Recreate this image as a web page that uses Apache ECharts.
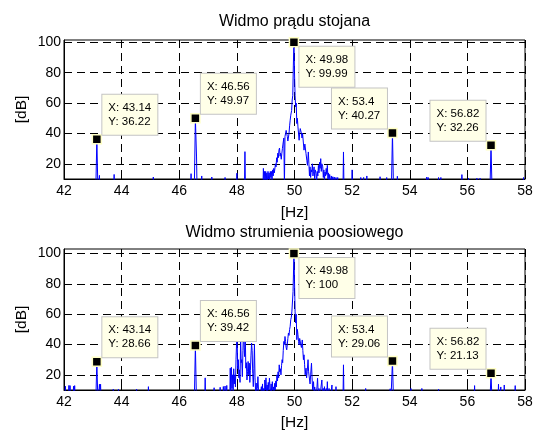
<!DOCTYPE html>
<html><head><meta charset="utf-8">
<script src="https://cdn.jsdelivr.net/npm/echarts@6/dist/echarts.min.js"></script>
<style>html,body{margin:0;padding:0;background:#fff}#c{width:538px;height:433px}</style>
</head><body><div id="c"></div>
<script>
// ---------- data ----------
const titles = ['Widmo prądu stojana', 'Widmo strumienia poosiowego'];
const xName = '[Hz]';
const yName = '[dB]';
const xTicks = [42, 44, 46, 48, 50, 52, 54, 56, 58];
const yTicks = [20, 40, 60, 80, 100];

// spectrum of stator current: [frequency Hz, level dB] (levels under 10 dB fall below the axis)
const spectrumTop = [
 [42.00,0],[43.10,0],[43.14,36.22],[43.18,0],[43.21,0],[43.23,12.4],[43.25,0],
 [43.72,0],[43.74,13.0],[43.76,0],[45.08,0],[45.10,11.3],[45.12,0],
 [46.39,0],[46.41,13.5],[46.43,0],[46.52,0],[46.56,49.97],[46.60,24.5],[46.62,0],
 [46.76,0],[46.78,12],[46.80,0],[47.11,0],[47.13,11.3],[47.15,0],[47.57,0],[47.59,11],[47.61,0],
 [47.98,0],[48.00,13.8],[48.02,0],[48.26,0],[48.28,28],[48.30,0],
 [48.90,0],[48.92,17],[48.94,9],[48.96,15],[48.98,8],[49.00,15],[49.02,9],[49.04,14],[49.06,8],
 [49.08,15],[49.10,10],[49.12,14],[49.14,8],[49.16,15],[49.18,11],[49.20,15],[49.22,9],[49.24,16],
 [49.26,12],[49.28,17],[49.30,14],[49.32,15],[49.34,20],[49.36,18],[49.38,24],[49.40,21],[49.42,27],
 [49.44,24],[49.46,29],[49.48,30.4],[49.50,25],[49.52,27],[49.54,23],[49.56,26.7],[49.58,30],
 [49.60,33],[49.63,37],[49.65,5],[49.67,38],[49.69,40],[49.71,42],[49.73,41],[49.75,38],[49.77,35],
 [49.79,34.4],[49.81,40],[49.83,45],[49.85,48.7],[49.87,52],[49.90,55],[49.92,62],[49.94,65],
 [49.96,85],[49.98,99.99],[50.00,80],[50.02,65],[50.04,57.5],[50.06,60],[50.08,46.5],[50.10,50],
 [50.12,44.3],[50.14,45],[50.16,35.5],[50.18,40],[50.20,43.2],[50.22,42],[50.24,40],[50.26,37],
 [50.28,40],[50.30,40],[50.33,29],[50.36,33],[50.40,26.7],[50.43,22],[50.45,19],[50.48,27.8],
 [50.50,20],[50.52,12],[50.54,18],[50.56,11],[50.58,16],[50.60,14.6],[50.62,20],[50.64,12],
 [50.66,15],[50.68,18],[50.70,10],[50.72,16],[50.75,13.6],[50.77,8],[50.79,15],[50.81,12],
 [50.83,19],[50.85,14],[50.87,21],[50.89,17],[50.91,23.4],[50.93,15],[50.95,20],[50.98,18],
 [51.00,11],[51.02,16],[51.04,9],[51.06,14.6],[51.08,12],[51.10,17],[51.12,13],[51.14,19],
 [51.16,10],[51.18,14],[51.20,8],[51.22,13],[51.24,12.5],[51.26,7],[51.28,12],[51.30,8],
 [51.33,11.5],[51.35,7],[51.38,11.3],[51.40,6],[51.44,11],[51.46,5],[51.50,11],[51.52,0],
 [51.68,0],[51.70,27.8],[51.72,0],[51.98,0],[52.00,16],[52.02,0],[52.28,0],[52.30,11],[52.32,0],
 [52.38,0],[52.40,11],[52.42,0],[52.49,0],[52.51,12],[52.53,0],[52.95,0],[52.97,11.5],[52.99,0],
 [53.18,0],[53.20,11],[53.22,0],[53.36,0],[53.40,40.27],[53.44,0],[53.55,0],[53.57,11.8],[53.59,0],
 [54.57,0],[54.59,11.3],[54.61,0],[54.62,0],[54.64,11],[54.66,0],[54.98,0],[55.00,11],[55.02,0],
 [55.06,0],[55.08,11],[55.10,0],[55.79,0],[55.81,12.9],[55.83,0],[56.02,0],[56.04,10.6],[56.06,0],
 [56.31,0],[56.33,10.5],[56.35,0],[56.42,0],[56.44,10.5],[56.46,0],[56.78,0],[56.82,32.26],[56.86,0],
 [57.93,0],[57.95,11],[57.97,0],[58.00,0]
];

// spectrum of axial flux
const spectrumBottom = [
 [42.00,0],[42.03,0],[42.05,12.5],[42.07,0],[42.15,0],[42.17,13],[42.19,0],[42.21,12.9],[42.23,0],
 [42.31,0],[42.33,12.5],[42.35,0],[42.37,12.9],[42.39,0],[43.10,0],[43.14,28.66],[43.18,0],
 [43.21,0],[43.23,13.8],[43.25,10],[43.27,13.8],[43.29,0],[43.69,0],[43.71,10.5],[43.73,0],
 [43.87,0],[43.89,10.5],[43.91,0],[44.50,0],[44.52,10.5],[44.54,0],[44.91,0],[44.93,12.2],[44.95,0],
 [46.52,0],[46.56,39.42],[46.60,0],[46.88,0],[46.90,18],[46.92,0],[47.19,0],[47.21,11.5],[47.23,0],
 [47.40,0],[47.42,11.8],[47.44,0],[47.51,0],[47.53,12.3],[47.55,0],[47.57,0],[47.59,12.6],[47.61,0],
 [47.63,0],[47.65,13],[47.67,0],
 [47.75,0],[47.77,24.4],[47.79,8],[47.81,25],[47.83,11],[47.85,20],[47.87,9],[47.89,24],[47.91,14],
 [47.93,20],[47.95,12],[47.97,30],[47.99,41],[48.01,43],[48.03,24],[48.05,30],[48.07,18],[48.09,23.3],
 [48.11,15],[48.13,45],[48.15,28],[48.17,30],[48.19,18.8],[48.21,36],[48.23,51],[48.25,38],[48.27,32],
 [48.29,50],[48.31,24.4],[48.33,28],[48.35,16.6],[48.37,22],[48.39,28.8],[48.41,20],[48.43,27.7],
 [48.45,15],[48.47,23],[48.49,33],[48.51,41],[48.53,36],[48.55,21],[48.57,12.2],[48.59,24],[48.61,40.3],
 [48.63,18],[48.65,8],[48.67,14.6],[48.69,5],[48.71,11],[48.73,18.8],[48.75,10],[48.77,0],
 [48.83,0],[48.85,12.2],[48.87,8],[48.89,14],[48.91,0],[48.93,11],[48.95,0],[48.97,16.6],[48.99,10],
 [49.01,18],[49.03,8],[49.05,13.3],[49.07,9],[49.09,15],[49.11,10],[49.13,17.8],[49.15,12],[49.17,7],
 [49.19,14],[49.21,8],[49.23,15.5],[49.25,10],[49.27,12],[49.29,6],[49.31,14.4],[49.33,10],[49.35,16],
 [49.37,12],[49.39,20],[49.41,16],[49.43,22],[49.45,18],[49.47,26.6],[49.49,22],[49.51,24],[49.53,20],
 [49.55,26],[49.57,30],[49.59,28],[49.61,36],[49.63,42],[49.65,40],[49.67,45.3],[49.69,42],[49.71,38],
 [49.73,36.5],[49.75,40],[49.77,44],[49.79,47.6],[49.81,46],[49.83,50],[49.85,52],[49.87,56.4],
 [49.89,58],[49.91,62],[49.93,63],[49.95,75],[49.98,100],[50.00,82],[50.02,62],[50.04,54.2],[50.06,60],
 [50.08,43.2],[50.10,50],[50.12,46.5],[50.14,42],[50.16,39.8],[50.18,44],[50.20,43],[50.22,39.8],
 [50.24,38],[50.27,43],[50.29,36],[50.31,30],[50.33,33.2],[50.35,27],[50.37,20],[50.40,24.4],
 [50.42,18],[50.44,22],[50.47,30],[50.49,22],[50.52,21],[50.54,14],[50.56,20],[50.59,27.7],[50.61,18],
 [50.63,10],[50.66,15.5],[50.68,8],[50.70,12],[50.73,11.3],[50.75,6],[50.78,12],[50.80,17.8],[50.82,9],
 [50.85,11],[50.87,12.2],[50.89,6],[50.92,12],[50.95,16.6],[50.97,8],[51.00,11],[51.02,5],[51.04,12.2],
 [51.06,5],[51.10,11],[51.12,6],[51.14,15.5],[51.16,5],[51.20,11],[51.22,0],[51.28,0],[51.30,13.3],
 [51.32,0],[51.42,0],[51.44,12.2],[51.46,0],[51.68,0],[51.70,26.6],[51.72,0],[52.44,0],[52.47,11],
 [52.50,0],[53.30,0],[53.32,10.8],[53.34,0],[53.36,0],[53.40,29.06],[53.44,0],[54.02,0],[54.04,11],
 [54.06,0],[54.40,0],[54.42,11],[54.44,0],[54.98,0],[55.00,10.5],[55.02,0],[56.23,0],[56.25,12.9],
 [56.27,0],[56.78,0],[56.82,21.13],[56.86,0],[57.06,0],[57.08,13.8],[57.10,0],[57.14,0],[57.16,12],
 [57.18,0],[57.26,0],[57.28,13.3],[57.30,0],[57.64,0],[57.66,12.9],[57.68,0],[58.00,0]
];

// data cursors
const tipFreq = [43.14, 46.56, 49.98, 53.4, 56.82];
const tipDbTop = [36.22, 49.97, 99.99, 40.27, 32.26];
const tipDbBottom = [28.66, 39.42, 100, 29.06, 21.13];

// ---------- layout / style ----------
const tipPlace = ['ur', 'ur', 'dr', 'ul', 'ul'];
const FONT = 'Liberation Sans, Arial, sans-serif';
const grids = [
  {left: 64, top: 40, width: 461, height: 139, ymax: 101.5},
  {left: 64, top: 249, width: 461, height: 141, ymax: 103}
];
const BOXW = 44, PAD = [6, 5, 6, 6];
function tipLabel(place) {
  const outerW = BOXW + PAD[1] + PAD[3];
  if (place === 'ur') return {align: 'left', verticalAlign: 'bottom', offset: [5.5, -4.5]};
  if (place === 'dr') return {align: 'left', verticalAlign: 'top', offset: [5.5, 4.5]};
  return {align: 'left', verticalAlign: 'bottom', offset: [-5.5 - outerW, -4.5]};
}

const chart = echarts.init(document.getElementById('c'), null, {renderer: 'canvas'});
const spectra = [spectrumTop, spectrumBottom];
const tipDb = [tipDbTop, tipDbBottom];

const option = {
  animation: false,
  backgroundColor: '#fff',
  title: titles.map((t, i) => ({
    text: t, left: grids[i].left + grids[i].width / 2, textAlign: 'center',
    top: i === 0 ? 13.5 : 225, padding: 0,
    textStyle: {fontFamily: FONT, fontSize: 16, fontWeight: 'normal', color: '#000'}
  })),
  grid: grids.map(g => ({left: g.left, top: g.top, width: g.width, height: g.height,
    show: true, borderColor: '#000', borderWidth: 1, backgroundColor: 'transparent', containLabel: false})),
  xAxis: grids.map((g, i) => ({
    type: 'value', gridIndex: i, min: xTicks[0], max: xTicks[xTicks.length - 1], interval: 2,
    name: xName, nameLocation: 'middle', nameGap: i === 0 ? 26 : 25, nameMoveOverlap: false,
    nameTextStyle: {fontFamily: FONT, fontSize: 15.5, color: '#000'},
    axisLine: {show: true, onZero: false, lineStyle: {color: '#000', width: 1}},
    axisTick: {show: true, inside: true, length: 5, lineStyle: {color: '#000'}},
    axisLabel: {fontFamily: FONT, fontSize: 14, color: '#000', margin: 5},
    splitLine: {show: true, lineStyle: {color: '#000', type: [8, 5], width: 1}}
  })),
  yAxis: grids.map((g, i) => ({
    type: 'value', gridIndex: i, min: 10, max: g.ymax,
    name: yName, nameLocation: 'middle', nameGap: 34, nameRotate: 90, nameMoveOverlap: false,
    nameTextStyle: {fontFamily: FONT, fontSize: 15.5, color: '#000'},
    axisLine: {show: true, onZero: false, lineStyle: {color: '#000', width: 1}},
    axisTick: {show: true, inside: true, length: 5, customValues: yTicks, lineStyle: {color: '#000'}},
    axisLabel: {fontFamily: FONT, fontSize: 14, color: '#000', margin: 3, customValues: yTicks},
    splitLine: {show: true, lineStyle: {color: '#000', type: [8, 5], width: 1}}
  })),
  series: []
};

spectra.forEach((s, i) => {
  option.series.push({
    type: 'line', xAxisIndex: i, yAxisIndex: i, data: s, showSymbol: false, symbol: 'none',
    clip: true, z: 3, silent: true,
    lineStyle: {color: '#0000ff', width: 1}
  });
  option.series.push({
    type: 'scatter', xAxisIndex: i, yAxisIndex: i, clip: false, z: 5, silent: true,
    symbol: 'rect', symbolSize: 9,
    itemStyle: {color: '#000', borderColor: '#ffffc4', borderWidth: 1.5, opacity: 1},
    data: tipFreq.map((f, k) => ({value: [f, tipDb[i][k]], label: tipLabel(tipPlace[k])})),
    label: {
      show: true, position: 'inside',
      formatter: p => 'X: ' + p.value[0] + '\nY: ' + p.value[1],
      fontFamily: FONT, fontSize: 11.5, lineHeight: 14, color: '#000',
      backgroundColor: '#ffffe8', borderColor: '#c4c4c4', borderWidth: 1,
      padding: PAD, width: BOXW
    }
  });
});

chart.setOption(option);
</script>
</body></html>
